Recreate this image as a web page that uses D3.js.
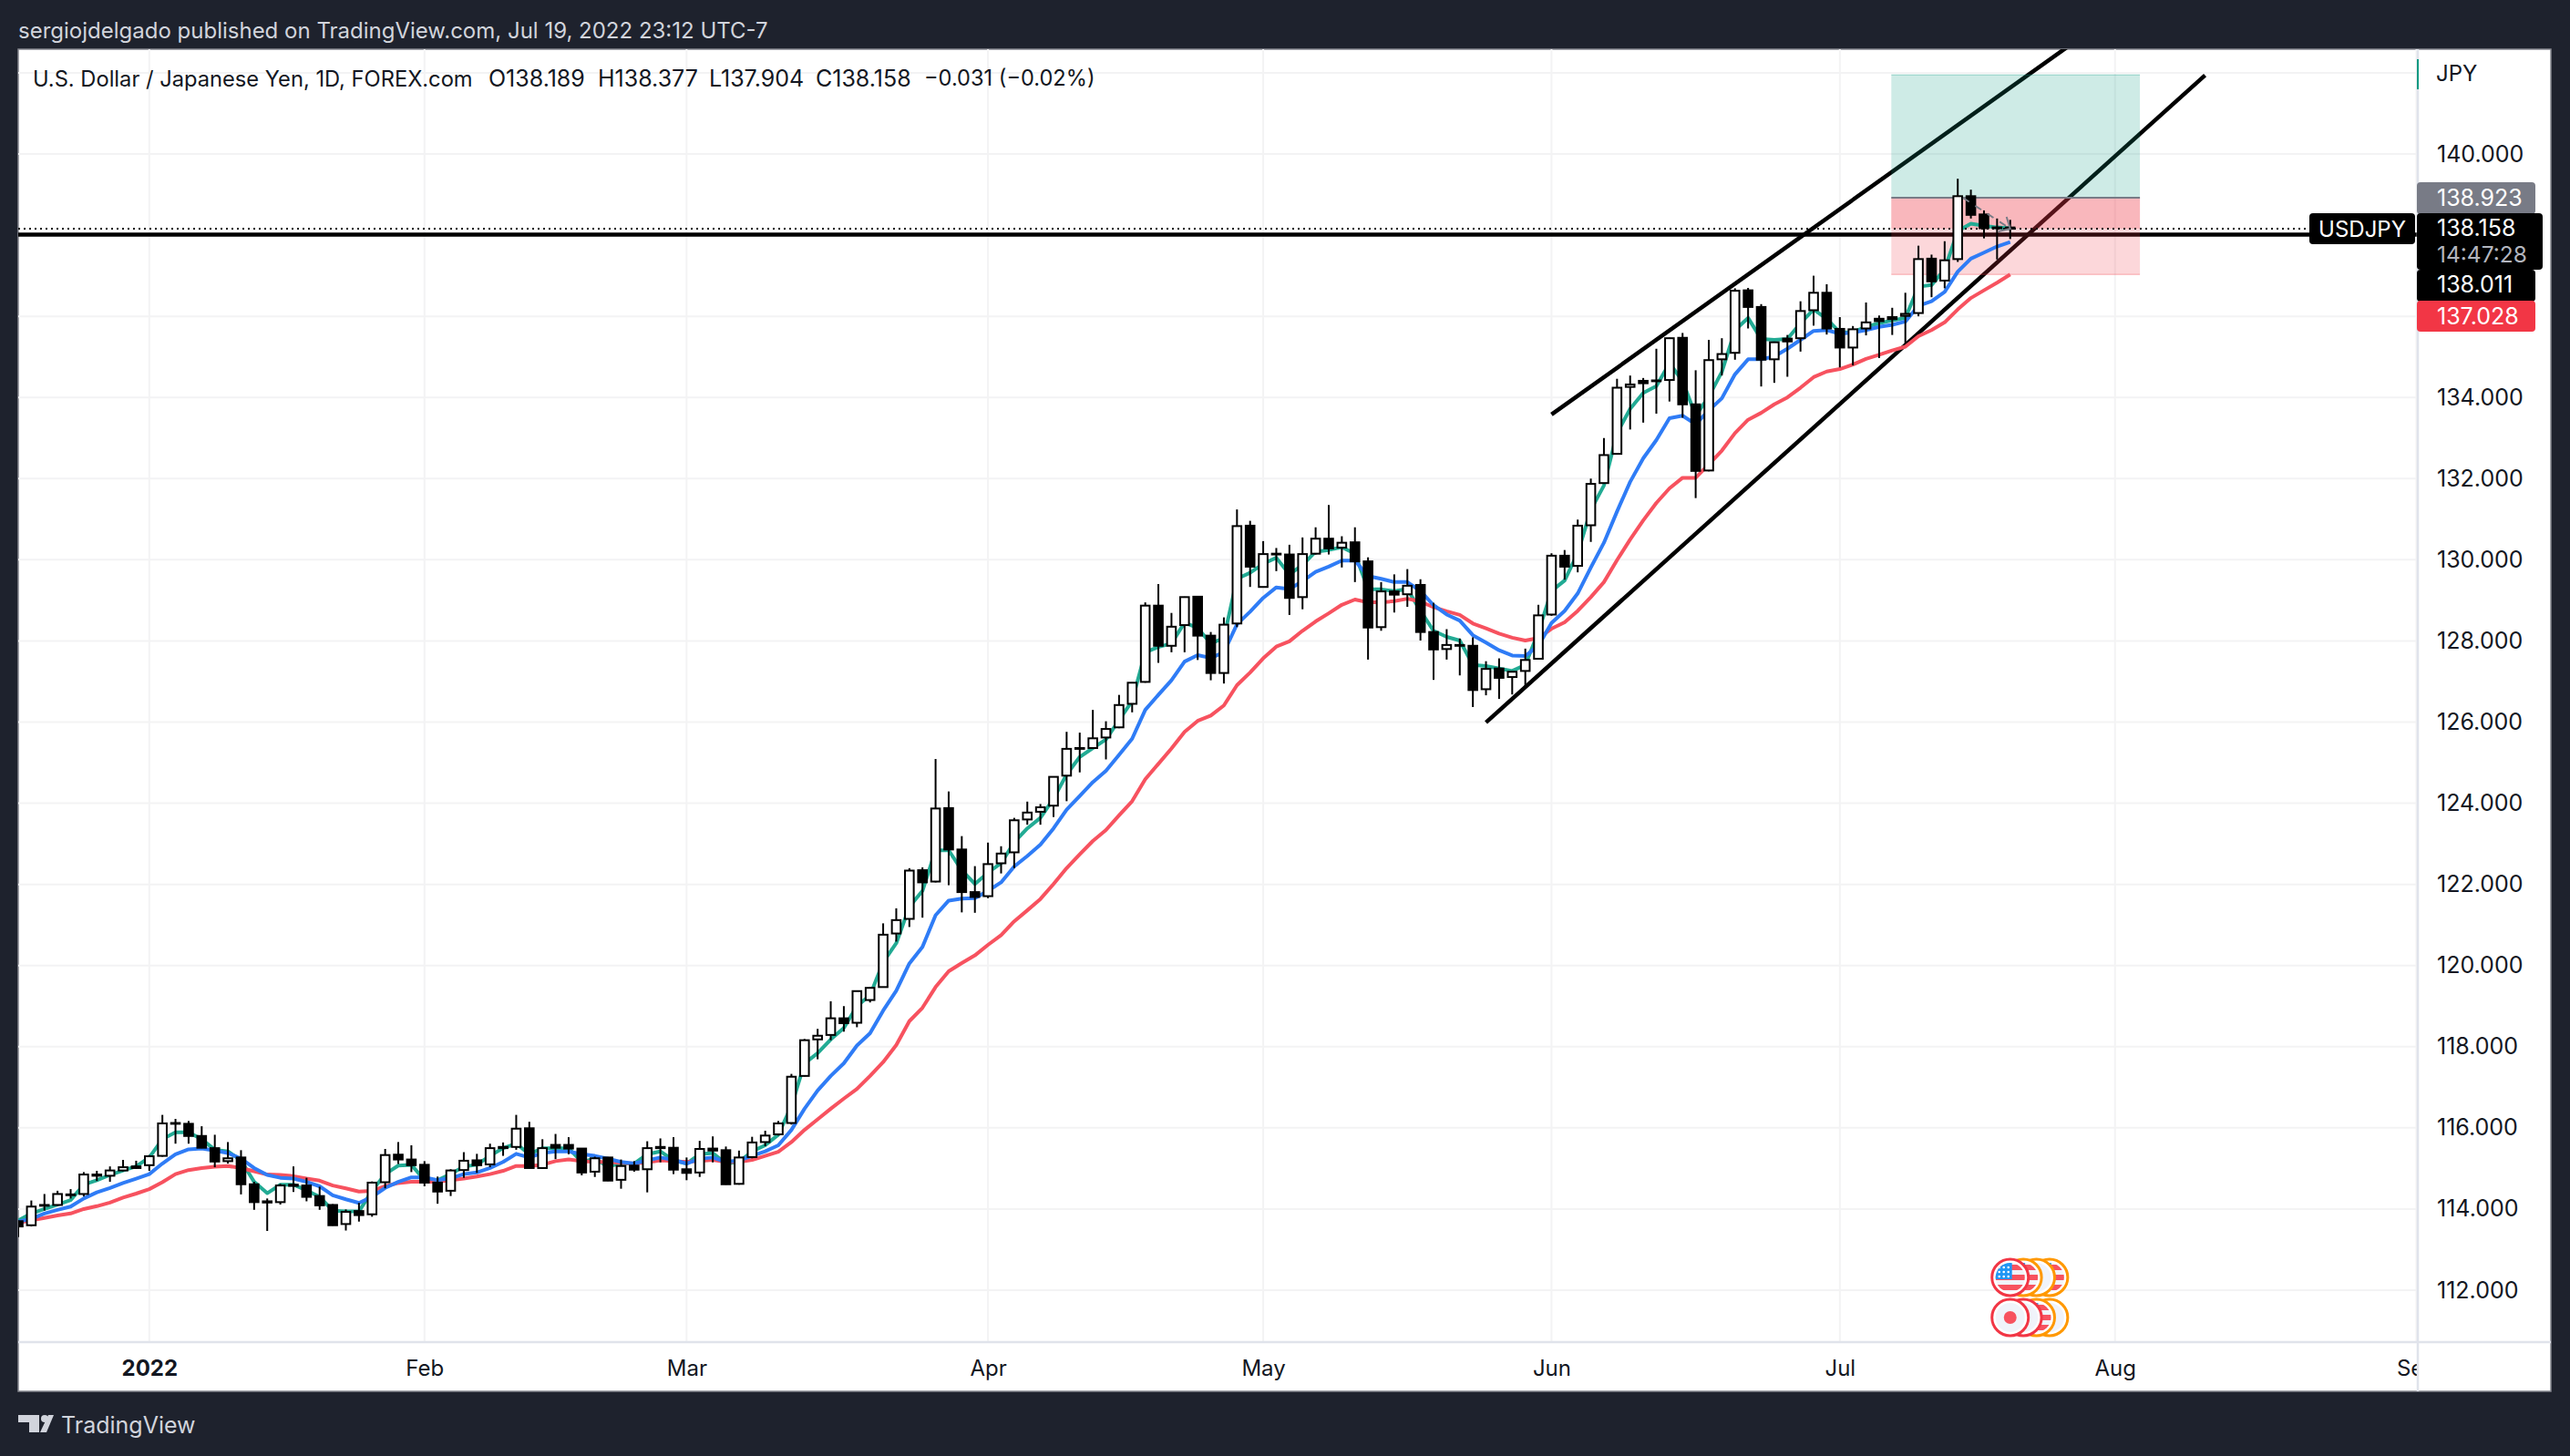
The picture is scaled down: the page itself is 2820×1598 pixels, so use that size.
<!DOCTYPE html>
<html>
<head>
<meta charset="utf-8">
<script src="https://cdn.jsdelivr.net/npm/d3@7"></script>
<style>
    html, body { margin: 0; padding: 0; background: #1e222d; }
    svg { display: block; }
    text { font-family: "Inter", "Noto Sans", sans-serif; }
</style>
</head>
<body>
<svg id="chart" width="2820" height="1598"></svg>
<script>
    // daily bars, index 0 is the clipped one at the left edge
    var opens = [113.70,113.60,114.10,114.10,114.34,114.37,114.85,114.82,114.95,115.05,
        115.08,115.31,116.12,116.10,115.80,115.50,115.18,115.27,114.61,114.19,
        114.17,114.60,114.58,114.32,114.10,113.63,113.95,113.87,114.66,115.34,
        115.22,115.09,114.65,114.45,114.96,115.20,115.10,115.53,115.53,115.99,
        115.01,115.58,115.58,115.49,114.92,115.27,114.72,115.07,114.98,115.53,
        115.51,114.98,114.90,115.49,115.45,114.62,115.28,115.65,115.84,116.12,
        117.28,118.18,118.29,118.70,118.59,119.15,119.47,120.79,121.15,122.35,
        122.07,123.88,122.86,121.81,121.71,122.52,122.79,123.60,123.79,123.94,
        124.68,125.36,125.36,125.62,125.87,126.45,126.99,128.87,127.88,128.39,
        129.09,128.13,127.21,128.43,130.84,129.33,130.15,130.13,129.08,130.15,
        130.52,130.30,130.43,129.96,128.34,129.22,129.15,129.38,128.22,127.80,
        127.90,127.88,126.81,127.32,127.11,127.26,127.56,128.65,130.10,129.85,
        130.85,131.89,132.61,134.26,134.41,134.42,134.43,135.47,133.83,132.20,
        134.94,135.10,136.64,136.23,134.94,135.45,135.46,136.15,136.58,135.69,
        135.23,135.70,135.94,135.98,136.01,136.08,137.42,136.88,137.41,138.96,
        138.51,138.19,138.189];
    var highs = [113.72,114.21,114.37,114.45,114.49,114.91,114.94,115.05,115.21,115.19,
        115.33,116.32,116.22,116.17,116.04,115.83,115.65,115.45,114.67,114.26,
        114.62,115.05,114.77,114.55,114.12,113.99,114.15,114.68,115.48,115.65,
        115.57,115.18,114.80,114.98,115.40,115.36,115.61,115.64,116.32,116.15,
        115.72,115.85,115.77,115.50,115.29,115.28,115.22,115.18,115.67,115.74,
        115.77,115.27,115.68,115.79,115.54,115.44,115.78,115.93,116.17,117.33,
        118.19,118.44,119.12,119.00,119.38,119.47,121.04,121.41,122.40,122.42,
        125.09,124.29,123.19,122.45,123.03,122.94,123.64,124.04,123.98,124.66,
        125.76,125.74,126.30,126.02,126.67,126.98,128.95,129.40,128.69,129.09,
        129.10,128.22,128.58,131.24,130.96,130.46,130.29,130.37,130.55,130.80,
        131.35,130.58,130.80,130.06,129.45,129.64,129.77,129.52,128.94,128.29,
        128.06,128.09,127.50,127.57,127.25,127.81,128.89,130.16,130.24,130.99,
        132.00,133.00,134.46,134.54,134.48,135.20,135.47,135.59,134.67,135.42,
        135.46,136.69,136.70,136.30,135.37,135.54,136.37,137.00,136.79,135.98,
        135.76,136.34,136.02,136.21,136.58,137.74,137.52,137.85,139.39,139.12,
        138.61,138.41,138.377];
    var lows = [113.31,113.57,113.96,114.08,114.26,114.31,114.69,114.67,114.93,114.99,
        114.94,115.29,115.61,115.61,115.50,115.03,115.12,114.36,113.98,113.46,
        114.11,114.42,114.19,113.98,113.59,113.47,113.69,113.81,114.51,115.11,
        114.91,114.56,114.13,114.32,114.77,114.89,115.03,115.31,115.46,115.00,
        114.99,115.23,115.35,114.83,114.79,114.69,114.50,114.92,114.41,115.15,
        114.86,114.71,114.79,115.15,114.60,114.60,115.25,115.55,115.81,116.08,
        117.27,117.69,118.16,118.37,118.48,119.09,119.46,120.59,120.95,121.18,
        122.05,121.98,121.31,121.30,121.66,122.27,122.40,123.47,123.47,123.66,
        124.05,124.76,125.36,125.08,125.85,126.24,126.97,127.46,127.72,127.72,
        127.53,127.03,126.95,128.34,129.33,129.33,129.72,128.64,128.78,130.13,
        130.13,129.81,129.45,127.54,128.25,128.70,128.84,128.01,127.04,127.54,
        127.15,126.37,126.66,126.57,126.68,126.87,127.54,128.62,129.51,129.69,
        130.44,131.87,132.59,133.21,133.38,133.60,133.90,133.50,131.52,132.18,
        134.54,134.93,135.70,134.27,134.36,134.51,135.13,135.77,135.55,134.74,
        134.79,135.53,134.97,135.54,135.33,136.00,136.47,136.69,137.34,138.41,
        137.92,137.40,137.904];
    var closes = [113.57,114.06,114.08,114.37,114.36,114.85,114.82,114.95,115.03,115.01,
        115.30,116.11,116.10,115.80,115.51,115.17,115.25,114.61,114.17,114.16,
        114.58,114.57,114.30,114.09,113.60,113.93,113.85,114.65,115.33,115.22,
        115.08,114.65,114.43,114.95,115.19,115.08,115.50,115.50,115.98,115.01,
        115.50,115.51,115.49,114.90,115.25,114.70,115.06,114.97,115.50,115.50,
        114.97,114.89,115.48,115.44,114.61,115.27,115.64,115.81,116.11,117.26,
        118.16,118.27,118.70,118.58,119.37,119.45,120.76,121.12,122.34,122.05,
        123.87,122.86,121.81,121.69,122.50,122.76,123.58,123.77,123.90,124.65,
        125.34,125.34,125.60,125.83,126.42,126.97,128.87,127.88,128.35,129.08,
        128.13,127.21,128.40,130.83,129.83,130.14,130.13,129.06,130.14,130.52,
        130.28,130.42,129.96,128.33,129.22,129.14,129.36,128.22,127.79,127.90,
        127.88,126.79,127.31,127.09,127.24,127.53,128.63,130.10,129.83,130.84,
        131.87,132.58,134.24,134.32,134.35,134.40,135.46,133.83,132.19,134.92,
        135.07,136.63,136.23,134.93,135.36,135.38,136.13,136.58,135.70,135.23,
        135.68,135.85,135.88,135.93,136.06,137.41,136.86,137.38,138.96,138.50,
        138.17,138.17,138.158];

    // moving averages, one reading per bar
    var emaFast = [113.72,113.89,114.00,114.11,114.22,114.60,114.71,114.84,114.95,115.05,
        115.27,115.72,115.89,115.89,115.72,115.46,115.42,115.20,114.67,114.39,
        114.60,114.60,114.46,114.30,113.96,113.94,113.94,114.45,114.86,115.07,
        115.09,114.71,114.71,114.86,115.05,115.09,115.31,115.50,115.61,115.35,
        115.50,115.50,115.50,115.16,115.24,115.05,115.12,115.12,115.35,115.42,
        115.20,115.12,115.35,115.38,115.12,115.16,115.42,115.57,115.83,116.54,
        117.59,117.84,118.18,118.46,119.00,119.27,120.08,120.55,121.45,121.84,
        122.84,122.84,122.35,122.01,122.29,122.52,123.04,123.38,123.64,124.11,
        124.71,125.14,125.36,125.57,126.05,126.52,127.72,127.85,127.94,128.45,
        128.32,127.94,128.07,129.53,129.68,129.90,130.05,129.64,129.87,130.20,
        130.24,130.31,130.15,129.27,129.27,129.23,129.28,128.74,128.25,128.10,
        128.01,127.41,127.38,127.32,127.26,127.41,128.22,129.23,129.49,130.16,
        131.23,131.83,133.12,133.72,134.11,134.28,134.84,134.41,133.55,134.02,
        134.63,135.66,135.96,135.44,135.42,135.44,135.83,136.17,135.94,135.60,
        135.61,135.74,135.83,135.90,135.96,136.73,136.77,137.16,138.10,138.28,
        138.23,138.19,138.17];
    var emaMid = [113.69,113.76,113.89,113.98,114.06,114.26,114.41,114.52,114.64,114.75,
        114.86,115.12,115.35,115.47,115.49,115.44,115.38,115.24,115.01,114.84,
        114.77,114.75,114.67,114.56,114.34,114.24,114.15,114.30,114.52,114.67,
        114.78,114.78,114.71,114.76,114.86,114.90,115.01,115.16,115.36,115.27,
        115.38,115.42,115.42,115.35,115.31,115.24,115.16,115.12,115.20,115.27,
        115.21,115.12,115.24,115.27,115.16,115.20,115.31,115.42,115.57,115.95,
        116.47,116.92,117.28,117.59,118.03,118.33,118.89,119.38,120.05,120.46,
        121.24,121.60,121.65,121.66,121.84,122.05,122.44,122.70,122.98,123.38,
        123.84,124.18,124.52,124.80,125.19,125.59,126.30,126.67,127.03,127.49,
        127.65,127.58,127.72,128.41,128.72,129.06,129.32,129.28,129.47,129.70,
        129.83,129.98,129.98,129.60,129.53,129.45,129.45,129.23,128.88,128.65,
        128.50,128.14,127.96,127.77,127.64,127.63,127.88,128.44,128.74,129.17,
        129.81,130.42,131.19,131.92,132.50,132.95,133.49,133.55,133.34,133.68,
        133.98,134.57,134.94,134.94,135.01,135.20,135.42,135.64,135.66,135.57,
        135.60,135.66,135.74,135.79,135.87,136.26,136.37,136.60,137.10,137.42,
        137.57,137.72,137.83];
    var emaSlow = [113.66,113.72,113.78,113.84,113.89,114.00,114.07,114.16,114.28,114.38,
        114.49,114.66,114.86,114.96,115.01,115.04,115.06,115.01,114.93,114.85,
        114.84,114.81,114.75,114.70,114.58,114.51,114.43,114.45,114.56,114.64,
        114.67,114.67,114.67,114.71,114.75,114.80,114.86,114.94,115.06,115.06,
        115.09,115.18,115.22,115.18,115.16,115.16,115.14,115.12,115.15,115.20,
        115.18,115.16,115.18,115.21,115.16,115.16,115.21,115.31,115.41,115.65,
        115.95,116.21,116.47,116.72,116.96,117.28,117.62,118.04,118.63,118.96,
        119.47,119.86,120.06,120.25,120.51,120.75,121.09,121.36,121.64,122.01,
        122.40,122.74,123.07,123.34,123.70,124.05,124.59,124.97,125.35,125.76,
        126.03,126.16,126.41,126.91,127.22,127.57,127.86,127.99,128.25,128.48,
        128.68,128.89,129.02,128.95,128.95,128.98,129.04,128.97,128.83,128.73,
        128.64,128.43,128.31,128.18,128.08,128.01,128.07,128.30,128.46,128.74,
        129.08,129.45,129.99,130.50,130.97,131.40,131.76,132.02,132.02,132.35,
        132.69,133.12,133.45,133.62,133.83,134.00,134.24,134.50,134.64,134.70,
        134.81,134.95,135.05,135.16,135.25,135.51,135.66,135.85,136.17,136.45,
        136.64,136.83,137.03];

    var monthBars = [10, 31, 51, 74, 95, 117, 139, 160, 183];
    var monthLabels = ["2022", "Feb", "Mar", "Apr", "May", "Jun", "Jul", "Aug", "Sep"];
    // 138 and 136 sit under the price tags, the reference does not print them
    var priceTicks = [140, 134, 132, 130, 128, 126, 124, 122, 120, 118, 116, 114, 112];
    var gridPrices = [142, 140, 138, 136, 134, 132, 130, 128, 126, 124, 122, 120, 118, 116, 114, 112];

    // hand drawn trend lines: [bar, price] at both ends
    var upperChannelBars = [117, 158.55];
    var upperChannelPrices = [133.58, 143.14];
    var lowerChannelBars = [112, 166.87];
    var lowerChannelPrices = [125.99, 141.94];
    var levelPrice = 138.011;

    // long position tool
    var positionBars = [142.93, 161.9];
    var targetPrice = 141.95;
    var entryPrice = 138.923;
    var stopPrice = 137.028;
    var lastClose = 138.158;
    var pathBars = [148.4, 152];
    var pathPrices = [138.92, 138.16];

    var eventBars = [155, 154, 153, 152];
    var eventTopKinds = ["us", "blank", "us", "us"];
    var eventTopColors = ["#ff9800", "#ff9800", "#ff9800", "#f23645"];
    var eventBottomKinds = ["blank", "us", "blank", "jp"];
    var eventBottomColors = ["#ff9800", "#ff9800", "#f23645", "#f23645"];

    var legendTitle = "U.S. Dollar / Japanese Yen, 1D, FOREX.com";
    var legendValues = ["O138.189", "H138.377", "L137.904", "C138.158", "\u22120.031 (\u22120.02%)"];
    var legendX = [536, 656, 778, 895, 1014];
    var legendSizes = ["25px", "25px", "25px", "25px", "23.6px"];

    var panel = { left: 20, top: 54, right: 2799, bottom: 1527, axisX: 2653, axisY: 1473 };

    var svg = d3.select("#chart");
    var x = d3.scaleLinear().domain([0, 183]).range([20, 2651.5]);
    var y = d3.scaleLinear().domain([140, 112]).range([169, 1416]);

    svg.append("rect").attr("width", 2820).attr("height", 1598).attr("fill", "#1e222d");
    svg.append("rect")
        .attr("x", panel.left).attr("y", panel.top)
        .attr("width", panel.right - panel.left).attr("height", panel.bottom - panel.top)
        .attr("fill", "#ffffff")
        .attr("stroke", "#85878e").attr("stroke-width", 1.5);

    var defs = svg.append("defs");
    defs.append("clipPath").attr("id", "plot").append("rect")
        .attr("x", panel.left).attr("y", panel.top)
        .attr("width", panel.axisX - panel.left).attr("height", panel.axisY - panel.top);
    defs.append("clipPath").attr("id", "timeAxis").append("rect")
        .attr("x", panel.left).attr("y", panel.axisY)
        .attr("width", panel.axisX - panel.left).attr("height", panel.bottom - panel.axisY);

    var plot = svg.append("g").attr("clip-path", "url(#plot)");

    // grid
    plot.selectAll(".gridH").data(gridPrices).enter().append("line")
        .attr("x1", panel.left).attr("x2", panel.axisX)
        .attr("y1", function(d) { return y(d); }).attr("y2", function(d) { return y(d); })
        .attr("stroke", "#f3f3f4").attr("stroke-width", 2);
    plot.selectAll(".gridV").data(monthBars).enter().append("line")
        .attr("x1", function(d) { return x(d); }).attr("x2", function(d) { return x(d); })
        .attr("y1", panel.top).attr("y2", panel.axisY)
        .attr("stroke", "#f3f3f4").attr("stroke-width", 2);

    // drawings, the position box goes on top of them
    function trendLine(bars, prices) {
        plot.append("line")
            .attr("x1", x(bars[0])).attr("y1", y(prices[0]))
            .attr("x2", x(bars[1])).attr("y2", y(prices[1]))
            .attr("stroke", "#000000").attr("stroke-width", 4.5);
    }
    trendLine(upperChannelBars, upperChannelPrices);
    trendLine(lowerChannelBars, lowerChannelPrices);
    plot.append("line")
        .attr("x1", panel.left).attr("x2", panel.axisX)
        .attr("y1", y(levelPrice)).attr("y2", y(levelPrice))
        .attr("stroke", "#000000").attr("stroke-width", 4.5);

    function positionRect(top, bottom, fill) {
        plot.append("rect")
            .attr("x", x(positionBars[0])).attr("width", x(positionBars[1]) - x(positionBars[0]))
            .attr("y", y(top)).attr("height", y(bottom) - y(top))
            .attr("fill", fill);
    }
    positionRect(targetPrice, entryPrice, "rgba(8,153,129,0.2)");
    positionRect(entryPrice, stopPrice, "rgba(242,54,69,0.2)");
    positionRect(entryPrice, lastClose, "rgba(242,54,69,0.2)");
    plot.append("line")
        .attr("x1", x(positionBars[0])).attr("x2", x(positionBars[1]))
        .attr("y1", y(entryPrice)).attr("y2", y(entryPrice))
        .attr("stroke", "#787b86").attr("stroke-width", 2);
    plot.append("line")
        .attr("x1", x(positionBars[0])).attr("x2", x(positionBars[1]))
        .attr("y1", y(targetPrice)).attr("y2", y(targetPrice))
        .attr("stroke", "rgba(8,153,129,0.25)").attr("stroke-width", 1.5);
    plot.append("line")
        .attr("x1", x(positionBars[0])).attr("x2", x(positionBars[1]))
        .attr("y1", y(stopPrice)).attr("y2", y(stopPrice))
        .attr("stroke", "rgba(242,54,69,0.25)").attr("stroke-width", 1.5);

    // moving averages
    var bars = d3.range(closes.length);
    function maLine(values, color) {
        var line = d3.line()
            .x(function(d) { return x(d); })
            .y(function(d) { return y(values[d]); });
        plot.append("path")
            .attr("d", line(bars))
            .attr("fill", "none")
            .attr("stroke", color).attr("stroke-width", 4)
            .attr("stroke-linejoin", "round");
    }
    maLine(emaFast, "#22ab94");
    maLine(emaSlow, "#f7525f");
    maLine(emaMid, "#2f7cf6");

    // last price line
    plot.append("line")
        .attr("x1", panel.left).attr("x2", panel.axisX)
        .attr("y1", y(lastClose)).attr("y2", y(lastClose))
        .attr("stroke", "#000000").attr("stroke-width", 2)
        .attr("stroke-dasharray", "2,4");

    // candles
    var candle = plot.selectAll(".candle").data(bars).enter().append("g");
    candle.append("line")
        .attr("x1", function(d) { return x(d); }).attr("x2", function(d) { return x(d); })
        .attr("y1", function(d) { return y(highs[d]); })
        .attr("y2", function(d) { return y(lows[d]); })
        .attr("stroke", "#000000").attr("stroke-width", 2);
    candle.append("rect")
        .attr("x", function(d) { return x(d) - 4.8; })
        .attr("width", 9.6)
        .attr("y", function(d) { return y(Math.max(opens[d], closes[d])); })
        .attr("height", function(d) { return Math.abs(y(opens[d]) - y(closes[d])); })
        .attr("fill", function(d) { return closes[d] >= opens[d] ? "#ffffff" : "#000000"; })
        .attr("stroke", "#000000").attr("stroke-width", 2);

    // entry to last price path
    plot.append("line")
        .attr("x1", x(pathBars[0])).attr("y1", y(pathPrices[0]))
        .attr("x2", x(pathBars[1])).attr("y2", y(pathPrices[1]))
        .attr("stroke", "#787b86").attr("stroke-width", 2)
        .attr("stroke-dasharray", "8,8");
    plot.append("path")
        .attr("d", "M" + (x(pathBars[1]) - 4) + "," + (y(pathPrices[1]) - 13)
            + "L" + x(pathBars[1]) + "," + y(pathPrices[1])
            + "L" + (x(pathBars[1]) - 13) + "," + (y(pathPrices[1]) + 3))
        .attr("fill", "none").attr("stroke", "#787b86").attr("stroke-width", 2);

    // event badges under the bars
    function usFlag(g, id) {
        var clip = "flag" + id;
        g.append("clipPath").attr("id", clip).append("circle").attr("r", 16);
        var f = g.append("g").attr("clip-path", "url(#" + clip + ")");
        f.append("rect").attr("x", -17).attr("y", -17).attr("width", 34).attr("height", 34).attr("fill", "#f0f3fa");
        [-14, -3, 8].forEach(function(s) {
            f.append("rect").attr("x", -17).attr("y", s).attr("width", 34).attr("height", 6).attr("fill", "#f7525f");
        });
        f.append("rect").attr("x", -17).attr("y", -17).attr("width", 19).attr("height", 19).attr("fill", "#2196f3");
        [-11, -6, -1].forEach(function(sy) {
            [-12, -7, -2].forEach(function(sx) {
                f.append("circle").attr("cx", sx).attr("cy", sy).attr("r", 1.3).attr("fill", "#ffffff");
            });
        });
    }
    function eventRow(cy, kinds, colors, prefix) {
        eventBars.forEach(function(b, i) {
            var g = svg.append("g").attr("transform", "translate(" + x(b) + "," + cy + ")");
            g.append("circle").attr("r", 20).attr("fill", "#ffffff")
                .attr("stroke", colors[i]).attr("stroke-width", 3);
            if (kinds[i] == "us") {
                usFlag(g, prefix + i);
            } else {
                g.append("circle").attr("r", 16).attr("fill", "#f0f3fa");
                if (kinds[i] == "jp") {
                    g.append("circle").attr("r", 7).attr("fill", "#f7525f");
                }
            }
        });
    }
    eventRow(1402, eventTopKinds, eventTopColors, "t");
    eventRow(1446, eventBottomKinds, eventBottomColors, "b");

    // axes
    var priceAxis = d3.axisRight(y)
        .tickValues(priceTicks)
        .tickSize(0).tickPadding(21)
        .tickFormat(function(d) { return d.toFixed(3); });
    var gPrice = svg.append("g").attr("transform", "translate(" + panel.axisX + ",0)").call(priceAxis);
    gPrice.select(".domain").remove();
    gPrice.selectAll("text").attr("fill", "#131722").style("font-size", "25px").style("font-family", "Inter");

    var timeAxis = d3.axisBottom(x)
        .tickValues(monthBars)
        .tickSize(0).tickPadding(0)
        .tickFormat(function(d, i) { return monthLabels[i]; });
    var gTime = svg.append("g")
        .attr("clip-path", "url(#timeAxis)")
        .append("g").attr("transform", "translate(0," + 1493 + ")").call(timeAxis);
    gTime.select(".domain").remove();
    gTime.selectAll("text").attr("fill", "#131722").style("font-size", "24px").style("font-family", "Inter")
        .style("font-weight", function(d, i) { return i == 0 ? "700" : "400"; });

    svg.append("line").attr("x1", panel.axisX).attr("x2", panel.axisX)
        .attr("y1", panel.top).attr("y2", panel.bottom)
        .attr("stroke", "#e0e3eb").attr("stroke-width", 2.5);
    svg.append("line").attr("x1", panel.left).attr("x2", panel.right)
        .attr("y1", panel.axisY).attr("y2", panel.axisY)
        .attr("stroke", "#e0e3eb").attr("stroke-width", 2.5);

    // currency tag
    svg.append("rect").attr("x", panel.axisX - 1).attr("y", 65).attr("width", 2).attr("height", 33).attr("fill", "#089981");
    svg.append("text").attr("x", 2673).attr("y", 80).attr("dy", "0.36em")
        .attr("fill", "#131722").style("font-size", "24px").text("JPY");

    // price labels on the axis
    function priceTag(top, bottom, right, fill) {
        svg.append("rect")
            .attr("x", panel.axisX - 1).attr("y", top)
            .attr("width", right - panel.axisX + 1).attr("height", bottom - top)
            .attr("rx", 4).attr("fill", fill);
    }
    function tagText(xPos, yPos, txt, fill, anchor, size) {
        svg.append("text").attr("x", xPos).attr("y", yPos).attr("dy", "0.36em")
            .attr("text-anchor", anchor || "start")
            .attr("fill", fill).style("font-size", size || "25px").text(txt);
    }
    priceTag(200, 235, 2782, "#787b86");
    priceTag(296, 331, 2782, "#000000");
    priceTag(330, 364, 2782, "#f23645");
    priceTag(234, 296, 2790, "#000000");
    svg.append("rect").attr("x", 2534).attr("y", 234).attr("width", 116).attr("height", 34)
        .attr("rx", 4).attr("fill", "#000000");
    tagText(2592, 251, "USDJPY", "#ffffff", "middle", "24px");
    tagText(2674, 217, entryPrice.toFixed(3), "#ffffff");
    tagText(2674, 250, lastClose.toFixed(3), "#ffffff");
    tagText(2674, 279, "14:47:28", "#b2b5be", "start", "24.5px");
    tagText(2674, 312, levelPrice.toFixed(3), "#ffffff");
    tagText(2674, 347, stopPrice.toFixed(3), "#ffffff");

    // header, legend and logo
    svg.append("text").attr("x", 20).attr("y", 33).attr("dy", "0.36em")
        .attr("fill", "#d1d4dc").style("font-size", "24px")
        .text("sergiojdelgado published on TradingView.com, Jul 19, 2022 23:12 UTC-7");
    svg.append("text").attr("x", 36).attr("y", 86).attr("dy", "0.36em")
        .attr("fill", "#131722").style("font-size", "23.7px").text(legendTitle);
    svg.selectAll(".legendValue").data(legendValues).enter().append("text")
        .attr("x", function(d, i) { return legendX[i]; })
        .attr("y", 86).attr("dy", "0.36em")
        .attr("fill", "#131722")
        .style("font-size", function(d, i) { return legendSizes[i]; })
        .text(function(d) { return d; });

    var logo = svg.append("g").attr("fill", "#d1d4dc");
    logo.append("path").attr("d", "M20,1553H43V1572H32V1561H20Z");
    logo.append("circle").attr("cx", 49).attr("cy", 1557).attr("r", 4);
    logo.append("path").attr("d", "M53,1553H59L51,1572H44Z");
    svg.append("text").attr("x", 67).attr("y", 1564).attr("dy", "0.36em")
        .attr("fill", "#d1d4dc").style("font-size", "25px").text("TradingView");
</script>
</body>
</html>
